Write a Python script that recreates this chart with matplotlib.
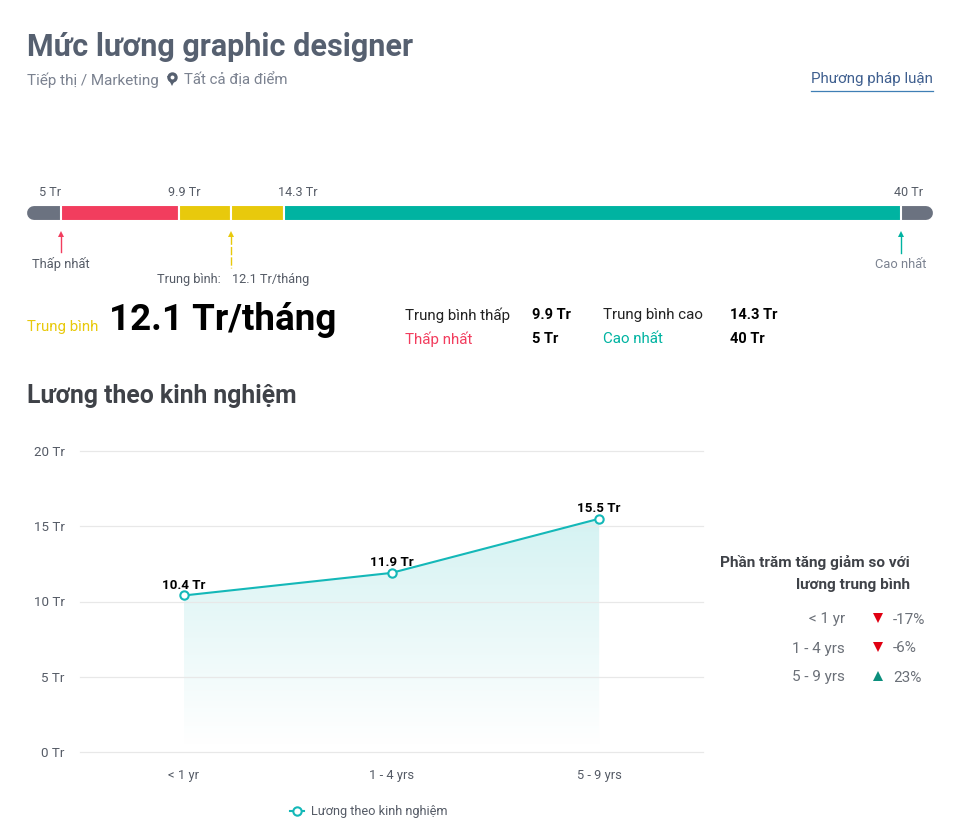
import numpy as np
import matplotlib
matplotlib.use("Agg")
import matplotlib.pyplot as plt
from matplotlib.patches import Polygon

plt.rcParams["font.family"] = ["Roboto", "DejaVu Sans"]

# salary figures, in millions per month
low = 5
low_avg = 9.9
avg = 12.1
high_avg = 14.3
high = 40

exp_labels = ["< 1 yr", "1 - 4 yrs", "5 - 9 yrs"]
exp_values = [10.4, 11.9, 15.5]
exp_pct = ["-17%", "-6%", "23%"]
exp_up = [False, False, True]
y_ticks = [0, 5, 10, 15, 20]

GREY = "#6b7280"
SLATE = "#566070"
RED = "#f23d5e"
YELLOW = "#e8c90c"
TEAL = "#00b3a1"
LINE = "#14b8b8"

W, H = 972, 825
fig = plt.figure(figsize=(W / 100, H / 100), dpi=100)

# page layer in pixel coordinates for the text blocks
page = fig.add_axes([0, 0, 1, 1])
page.set_xlim(0, W)
page.set_ylim(H, 0)
page.axis("off")


def txt(x, y, s, size=9.5, color="#555b66", weight="normal", ha="left"):
    page.text(x, y, s, fontsize=size, color=color, fontweight=weight, ha=ha, va="center")


txt(27, 47, "Mức lương graphic designer", 22, SLATE, "bold")
txt(27, 80, "Tiếp thị / Marketing", 11, "#7b8290")
txt(184, 80, "Tất cả địa điểm", 10.8, "#7b8290")
# location pin
page.plot([172], [81], marker="v", ms=6.5, mew=0, color=SLATE, zorder=3)
page.plot([172], [77], marker="o", ms=7.5, mew=0, color=SLATE, zorder=3)
page.plot([172], [77], marker="o", ms=2.8, mew=0, color="white", zorder=4)
txt(933, 79.5, "Phương pháp luận", 10.9, "#3f5f8f", ha="right")
page.plot([811, 933], [91, 91], color="#3f7fb5", lw=0.9)

# salary range bar, on its own value axis
bar_min = 3.583
bar_max = 41.333
bar = fig.add_axes([27 / W, 1 - 221 / H, 906 / W, 16 / H])
bar.set_xlim(bar_min, bar_max)
bar.set_ylim(0, 1)
bar.axis("off")
bar.plot([bar_min + 0.3, bar_max - 0.3], [0.5, 0.5], color=GREY, lw=10, solid_capstyle="round", clip_on=False)
seg_edges = [low, low_avg, avg, high_avg, high]
seg_cols = [RED, YELLOW, YELLOW, TEAL]
for a, b, c in zip(seg_edges[:-1], seg_edges[1:], seg_cols):
    bar.barh(0.5, b - a, left=a, height=1.0, color=c, edgecolor="white", linewidth=1.5, zorder=3)
bar.set_xlim(bar_min, bar_max)
bar.set_ylim(0, 1)


def to_px(v):
    return 27 + (v - bar_min) / (bar_max - bar_min) * 906


for v, s, dx in [(low, "5 Tr", -11), (low_avg, "9.9 Tr", 6), (high_avg, "14.3 Tr", 14), (high, "40 Tr", 7)]:
    txt(to_px(v) + dx, 192, s, 9.1, "#555b66", ha="center")

for v, col, y1 in [(low, RED, 252), (avg, YELLOW, 268), (high, TEAL, 253)]:
    x = to_px(v)
    page.plot([x, x], [236, y1], color=col, lw=1, ls=(0, (6, 1.5)) if v == avg else "-")
    page.plot([x], [234], marker="^", ms=4.8, color=col, mew=0)

txt(60.5, 264, "Thấp nhất", 9.3, "#555b66", ha="center")
txt(157, 279, "Trung bình:", 9.2, "#555b66")
txt(232, 279, "12.1 Tr/tháng", 9.2, "#555b66")
txt(901, 264, "Cao nhất", 9.3, "#7b8290", ha="center")

# summary row
txt(27, 327, "Trung bình", 10.8, YELLOW)
txt(109, 320, "12.1 Tr/tháng", 26.5, "black", "bold")
txt(405, 315, "Trung bình thấp", 10.9, "#222222")
txt(532, 315, "9.9 Tr", 10.5, "black", "bold")
txt(603, 315, "Trung bình cao", 10.9, "#222222")
txt(730, 315, "14.3 Tr", 10.5, "black", "bold")
txt(405, 339, "Thấp nhất", 10.9, RED)
txt(532, 339, "5 Tr", 10.5, "black", "bold")
txt(603, 339, "Cao nhất", 10.9, TEAL)
txt(730, 339, "40 Tr", 10.5, "black", "bold")

txt(27, 396, "Lương theo kinh nghiệm", 17.8, "#3f4248", "bold")

# experience line chart
ax = fig.add_axes([80 / W, 1 - 752 / H, 623 / W, 301 / H])
ax.set_xlim(-0.5, 2.5)
ax.set_ylim(0, 20)
for s in ax.spines.values():
    s.set_visible(False)
ax.set_yticks(y_ticks)
ax.set_yticklabels([f"{t} Tr" for t in y_ticks], fontsize=9.6, color="#555b66")
ax.set_xticks(range(len(exp_labels)))
ax.set_xticklabels(exp_labels, fontsize=9.3, color="#555b66")
ax.tick_params(length=0, pad=11, axis="y")
ax.tick_params(length=0, pad=12, axis="x")
ax.grid(axis="y", color="#e8e8e8", lw=0.9)
for g in ax.yaxis.get_gridlines():
    g.set_clip_on(False)
ax.set_axisbelow(True)

# area under the line fades to white, kept under the grid so the lines stay visible
xs = np.arange(len(exp_values))
fade = np.linspace(0.18, 0, 256)[:, None, None]
grad = np.ones((256, 2, 3)) * (1 - fade) + np.array(matplotlib.colors.to_rgb(LINE)) * fade
img = ax.imshow(grad, extent=[0, 2, 0.5, max(exp_values)], origin="upper", aspect="auto", zorder=0.4)
poly = Polygon(list(zip(xs, exp_values)) + [(2, 0), (0, 0)], transform=ax.transData, fc="none", ec="none")
ax.add_patch(poly)
img.set_clip_path(poly)
ax.set_xlim(-0.5, 2.5)
ax.set_ylim(0, 20)

ax.plot(xs, exp_values, color=LINE, lw=1.5, marker="o", ms=6, mfc="white", mec=LINE, mew=1.5, zorder=3)
for x, v in zip(xs, exp_values):
    ax.annotate(f"{v} Tr", (x, v), xytext=(0, 2.5), textcoords="offset points", ha="center", va="bottom",
                fontsize=9.6, fontweight="bold", color="black", zorder=4)

# legend below the plot
page.plot([297], [811], marker="o", ms=6, mfc="white", mec=LINE, mew=1.5, zorder=3)
page.plot([290, 304], [811, 811], color=LINE, lw=1.5)
txt(311, 811, "Lương theo kinh nghiệm", 9.2, "#555b66")

# percentage panel on the right
txt(910, 562, "Phần trăm tăng giảm so với", 11.1, "#3f4248", "bold", ha="right")
txt(910, 585, "lương trung bình", 11.1, "#3f4248", "bold", ha="right")
for y, name, pct, up in zip([619, 648, 677], exp_labels, exp_pct, exp_up):
    txt(845, y + 0.5, name, 11, "#6b7078", ha="right")
    txt(893, y + 0.5, pct, 11, "#6b7078")
    page.plot([878], [y - 1], marker="^" if up else "v", ms=7, mew=0, color="#0c8f7d" if up else "#e00012")

fig.savefig("out.png", dpi=100, facecolor="white")
